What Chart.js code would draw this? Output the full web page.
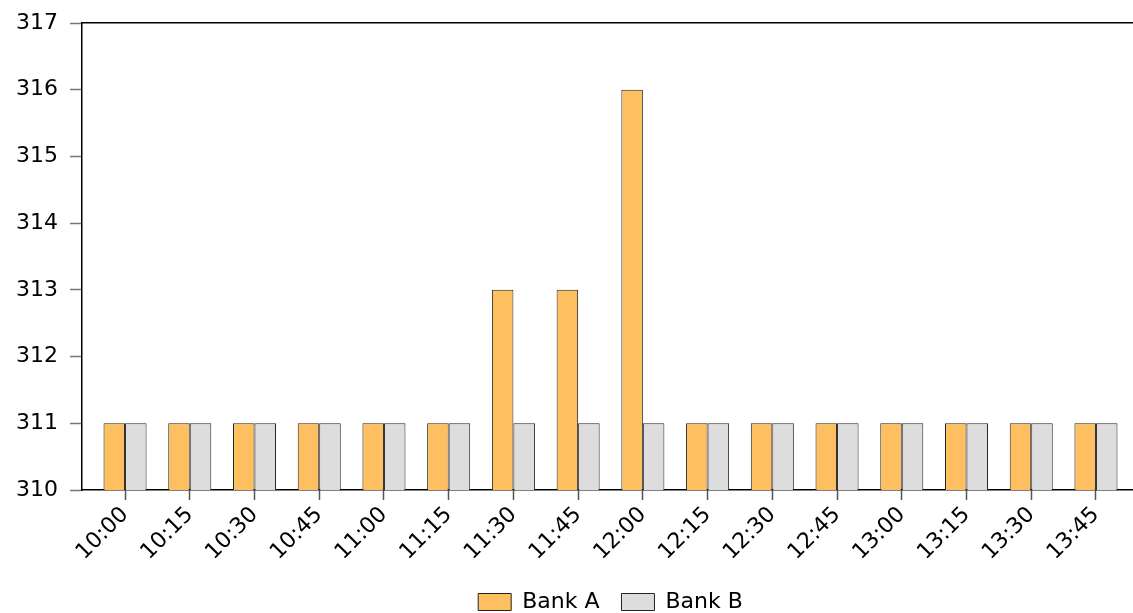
<!DOCTYPE html>
<html>
<head>
<meta charset="utf-8">
<script src="https://cdn.jsdelivr.net/npm/chart.js@4.4.1/dist/chart.umd.min.js"></script>
<style>
  html, body { margin: 0; padding: 0; background: #fff; overflow: hidden; }
  #wrap { width: 1139px; height: 613px; position: relative; }
</style>
</head>
<body>
<div id="wrap"><canvas id="bankChart"></canvas></div>
<script>
// values
const times = ['10:00', '10:15', '10:30', '10:45', '11:00', '11:15', '11:30', '11:45',
               '12:00', '12:15', '12:30', '12:45', '13:00', '13:15', '13:30', '13:45'];
const bankA = [311, 311, 311, 311, 311, 311, 313, 313, 316, 311, 311, 311, 311, 311, 311, 311];
const bankB = [311, 311, 311, 311, 311, 311, 311, 311, 311, 311, 311, 311, 311, 311, 311, 311];
const yTicks = [310, 311, 312, 313, 314, 315, 316, 317];

const FONT = "'DejaVu Sans', 'Liberation Sans', Arial, sans-serif";
const pts = arr => arr.map((v, i) => ({ x: i, y: v }));

new Chart(document.getElementById('bankChart'), {
  type: 'bar',
  data: {
    datasets: [
      { label: 'Bank A', data: pts(bankA), backgroundColor: '#FEBF60', borderColor: '#222', borderWidth: 1 },
      { label: 'Bank B', data: pts(bankB), backgroundColor: '#DDDDDD', borderColor: '#222', borderWidth: 1 }
    ]
  },
  options: {
    responsive: true,
    maintainAspectRatio: false,
    animation: false,
    devicePixelRatio: 1,
    barPercentage: 1,
    categoryPercentage: 0.665,
    layout: { padding: { top: 21, left: 0, right: 0, bottom: -10 } },
    plugins: {
      tooltip: { enabled: false },
      legend: {
        position: 'bottom',
        fullSize: false,
        labels: {
          color: '#000', boxWidth: 33, boxHeight: 17, padding: 22,
          font: { family: FONT, size: 22 },
          generateLabels: chart => chart.data.datasets.map((d, i) => ({
            text: d.label, fillStyle: d.backgroundColor, strokeStyle: '#222',
            lineWidth: 1, datasetIndex: i, fontColor: '#000'
          }))
        }
      }
    },
    scales: {
      x: {
        type: 'linear',
        offset: false,
        min: -0.665,
        max: 15.665,
        afterBuildTicks: s => { s.ticks = times.map((t, i) => ({ value: i })); },
        afterFit: s => { s.height = 79; },
        ticks: {
          autoSkip: false, minRotation: 45, maxRotation: 45, padding: 2,
          color: '#000', font: { family: FONT, size: 22 },
          callback: v => times[v]
        },
        grid: { offset: false, drawOnChartArea: false, tickLength: 10, tickColor: '#555', tickWidth: 1.5 },
        border: { color: '#000', width: 1.5 }
      },
      xTop: {
        type: 'linear', position: 'top', min: 0, max: 1,
        afterFit: s => { s.height = 0; },
        ticks: { display: false },
        grid: { display: false },
        border: { display: true, color: '#000', width: 1.5 }
      },
      y: {
        min: 310, max: 317,
        afterBuildTicks: s => { s.ticks = yTicks.map(v => ({ value: v })); },
        afterFit: s => { s.width = 82; },
        ticks: { color: '#000', padding: 12, font: { family: FONT, size: 22, lineHeight: 1 } },
        grid: { drawOnChartArea: false, tickLength: 12, tickColor: '#777', tickWidth: 1.5 },
        border: { color: '#000', width: 1.5 }
      }
    }
  }
});
</script>
</body>
</html>
